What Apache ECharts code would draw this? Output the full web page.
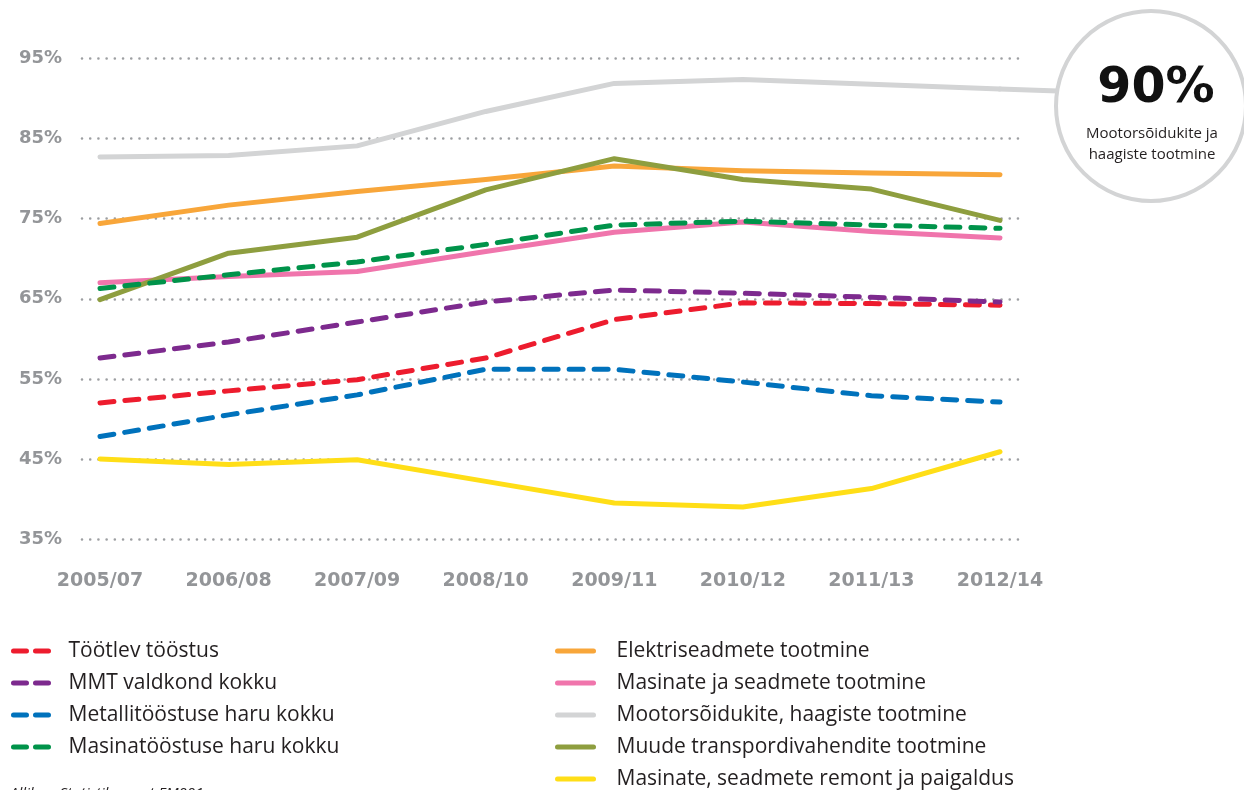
<!DOCTYPE html>
<html>
<head>
<meta charset="utf-8">
<script src="https://cdn.jsdelivr.net/npm/echarts@6/dist/echarts.min.js"></script>
<style>
html,body{margin:0;padding:0;background:#fff;}
#c{width:1244px;height:790px;}
</style>
</head>
<body>
<div id="c"></div>
<script>
const categories = ['2005/07','2006/08','2007/09','2008/10','2009/11','2010/12','2011/13','2012/14'];
const yMin = 35, yMax = 95, yStep = 10;

const tootlev     = [52.0, 53.5, 54.9, 57.6, 62.4, 64.5, 64.4, 64.2];
const mmt         = [57.6, 59.6, 62.1, 64.6, 66.1, 65.7, 65.2, 64.6];
const metalli     = [47.8, 50.5, 53.0, 56.2, 56.2, 54.6, 52.9, 52.1];
const masinatoo   = [66.3, 68.0, 69.6, 71.8, 74.2, 74.7, 74.2, 73.8];
const elektri     = [74.4, 76.7, 78.4, 79.9, 81.6, 81.0, 80.7, 80.5];
const masinSeadm  = [67.0, 67.8, 68.4, 70.9, 73.3, 74.6, 73.4, 72.6];
const mootor      = [82.7, 82.9, 84.1, 88.4, 91.9, 92.4, 91.8, 91.2];
const muudeTransp = [64.9, 70.7, 72.7, 78.6, 82.5, 79.9, 78.7, 74.8];
const remont      = [45.0, 44.3, 44.9, 42.2, 39.5, 39.0, 41.3, 45.9];

const dashedNames = ['Töötlev tööstus','MMT valdkond kokku','Metallitööstuse haru kokku','Masinatööstuse haru kokku'];
const dashedData  = [tootlev, mmt, metalli, masinatoo];
const dashedColors = ['#ED1C2E','#7D2A8E','#0072BC','#00934A'];

const solidNames = ['Elektriseadmete tootmine','Masinate ja seadmete tootmine','Mootorsõidukite, haagiste tootmine','Muude transpordivahendite tootmine','Masinate, seadmete remont ja paigaldus'];
const solidData  = [elektri, masinSeadm, mootor, muudeTransp, remont];
const solidColors = ['#F8A63A','#F075AC','#D3D4D5','#8E9E3F','#FFDE17'];

const calloutValue = '90%';
const calloutText = 'Mootorsõidukite ja\nhaagiste tootmine';
const sourceText = 'Allikas: Statistikaamet EM001';

const chart = echarts.init(document.getElementById('c'), null, {renderer:'canvas'});

const series = [];
solidNames.forEach((n,i)=>{
  series.push({
    name:n, type:'line', xAxisIndex:1, yAxisIndex:1, data:solidData[i],
    symbol:'none', smooth:false, z: 2,
    itemStyle:{color:solidColors[i], opacity:0},
    lineStyle:{color:solidColors[i], width:5, cap:'round', join:'round'},
    emphasis:{disabled:true}
  });
});
dashedNames.forEach((n,i)=>{
  series.push({
    name:n, type:'line', xAxisIndex:1, yAxisIndex:1, data:dashedData[i],
    symbol:'none', smooth:false, z: 3,
    itemStyle:{color:dashedColors[i], opacity:0},
    lineStyle:{color:dashedColors[i], width:5, type:[14,11], cap:'round', join:'round'},
    emphasis:{disabled:true}
  });
});

const labelGray = '#939598';
const option = {
  animation:false,
  backgroundColor:'#fff',
  grid:[
    {left:82, right:224, top:58.6, bottom:251},
    {left:100, right:244, top:58.6, bottom:251}
  ],
  xAxis:[
    {type:'category', gridIndex:0, data:categories, show:false},
    {type:'category', gridIndex:1, data:categories, boundaryGap:false,
     axisLine:{show:false}, axisTick:{show:false}, splitLine:{show:false},
     axisLabel:{margin:33, color:labelGray, fontFamily:'DejaVu Sans', fontWeight:'bold', fontSize:19}}
  ],
  yAxis:[
    {type:'value', gridIndex:0, min:yMin, max:yMax, interval:yStep,
     axisLine:{show:false}, axisTick:{show:false},
     axisLabel:{margin:20, color:labelGray, fontFamily:'DejaVu Sans', fontWeight:'bold', fontSize:18, formatter:v=>v+'%'},
     splitLine:{show:true, lineStyle:{color:'#9D9FA2', width:2.6, type:[0.01,8.2], cap:'round'}}},
    {type:'value', gridIndex:1, min:yMin, max:yMax, interval:yStep, show:false, splitLine:{show:false}}
  ],
  legend:[
    {data:dashedNames, orient:'vertical', left:11, top:640, padding:0, itemWidth:38, itemHeight:12, itemGap:10,
     selectedMode:false,
     lineStyle:{type:[13,9], width:5, cap:'round'},
     itemStyle:{opacity:0},
     textStyle:{fontFamily:'Open Sans', fontSize:21, color:'#231F20', padding:[0,0,0,12], lineHeight:22}},
    {data:solidNames, orient:'vertical', left:555, top:640, padding:0, height:165, itemWidth:36, itemHeight:12, itemGap:10,
     selectedMode:false,
     lineStyle:{width:5, cap:'round'},
     itemStyle:{opacity:0},
     textStyle:{fontFamily:'Open Sans', fontSize:21, color:'#231F20', padding:[0,0,0,18], lineHeight:22}}
  ],
  series:series,
  graphic:[]
};
chart.setOption(option);

// callout circle connected to the last point of the Mootorsõidukite series
const cx = 1151, cy = 106, r = 95;
const gi = solidNames.indexOf('Mootorsõidukite, haagiste tootmine');
const p = chart.convertToPixel({seriesIndex:gi}, [categories.length-1, mootor[mootor.length-1]]);
chart.setOption({graphic:[
  {type:'line', shape:{x1:p[0], y1:p[1], x2:cx-r+2, y2:p[1]+2}, style:{stroke:solidColors[gi], lineWidth:5, lineCap:'round'}, z:1},
  {type:'circle', shape:{cx:cx, cy:cy, r:r}, style:{fill:'#fff', stroke:'#D3D4D5', lineWidth:4}, z:5},
  {type:'text', x:cx+5, y:89, style:{text:calloutValue, align:'center', verticalAlign:'middle', font:'bold 49px "DejaVu Sans"', fill:'#111'}, z:6},
  {type:'text', x:cx+1, y:144, style:{text:calloutText, align:'center', verticalAlign:'middle', font:'15px "Open Sans"', lineHeight:21, fill:'#231F20'}, z:6},
  {type:'text', x:10, y:786, style:{text:sourceText, font:'italic 15px "Open Sans"', fill:'#231F20'}, z:6}
]});
</script>
</body>
</html>
